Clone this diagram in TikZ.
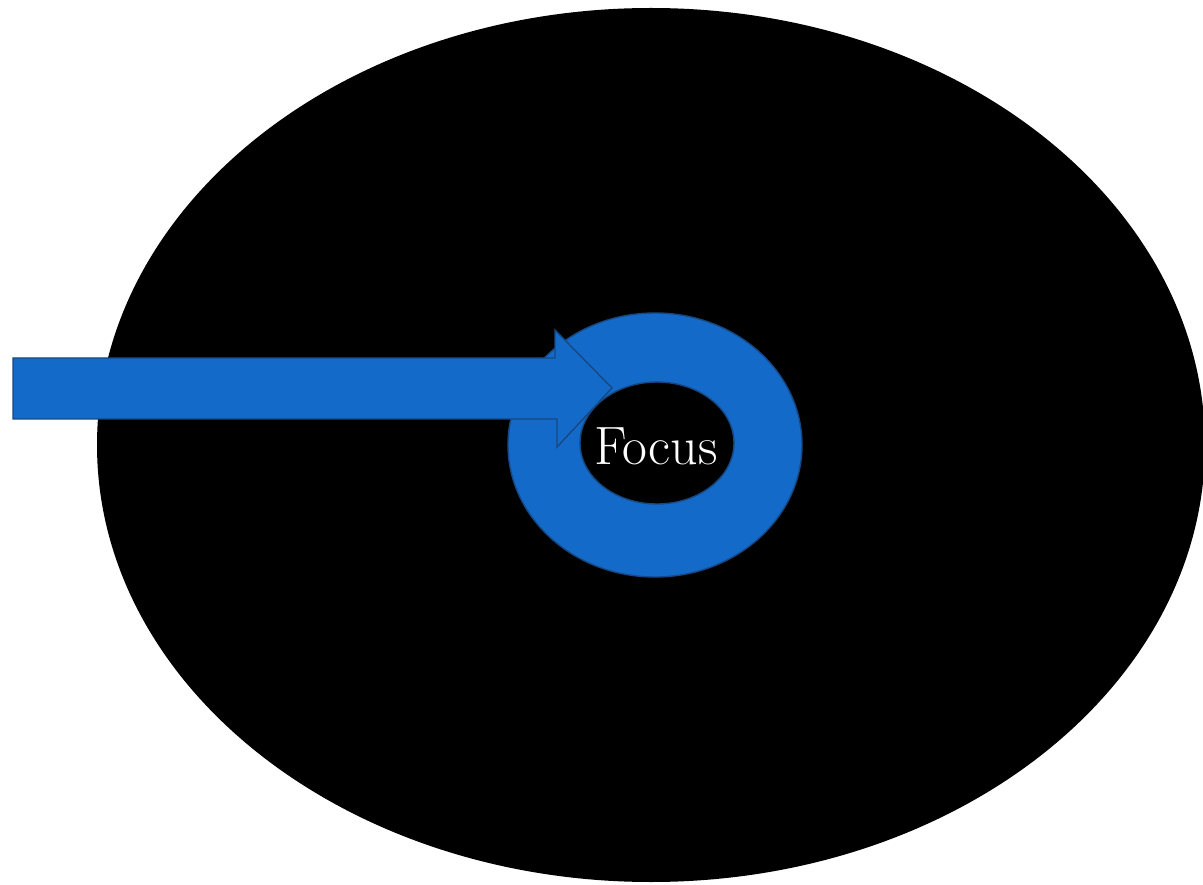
\documentclass[tikz,border=0pt]{standalone}
\usetikzlibrary{shapes.geometric}
\definecolor{ringblue}{RGB}{20,106,200}
\definecolor{edgeblue}{RGB}{22,72,132}
\tikzset{
  blueshape/.style={draw=edgeblue, line width=1.4pt, fill=ringblue, line join=miter},
}
\begin{document}
\begin{tikzpicture}[x=1pt,y=-1pt]
\useasboundingbox[fill=white] (0,0) rectangle (1203,885);
% big black ellipse
\node[ellipse, fill=black, minimum width=1108pt, minimum height=874pt, inner sep=0pt] (disc) at (651,445) {};
% ring
\path[blueshape, even odd rule] (655,445) ellipse [x radius=147, y radius=132]
      (657,443) ellipse [x radius=77, y radius=61];
\coordinate (tip) at (612,388);
% arrow
\path[blueshape] (13,358) -- (555,358) -- (555,330) -- (tip) -- (557,447) -- (557,419) -- (13,419) -- cycle;
\node[text=white, font=\fontsize{54}{62}\selectfont, inner sep=0pt] (focus) at (656,446) {Focus};
\end{tikzpicture}
\end{document}
